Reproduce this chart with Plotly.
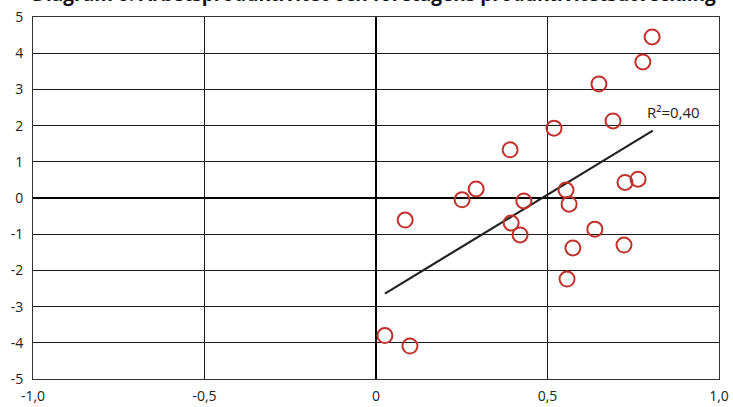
import plotly.graph_objects as go

# Productivity data: labour productivity (x) vs. firm productivity growth (y)
prod_x = [0.805, 0.778, 0.650, 0.691, 0.519, 0.391, 0.292, 0.251, 0.431, 0.554,
          0.726, 0.764, 0.563, 0.085, 0.394, 0.420, 0.638, 0.574, 0.723, 0.557,
          0.026, 0.099]
prod_y = [4.45, 3.76, 3.15, 2.13, 1.93, 1.33, 0.25, -0.05, -0.08, 0.22,
          0.43, 0.52, -0.17, -0.61, -0.69, -1.02, -0.86, -1.38, -1.30, -2.24,
          -3.80, -4.09]

# Linear trend endpoints
trend_x = [0.026, 0.807]
trend_y = [-2.64, 1.86]
r2_label = "R²=0,40"

x_ticks = [-1.0, -0.5, 0.0, 0.5, 1.0]
x_tick_text = ["-1,0", "-0,5", "0", "0,5", "1,0"]
y_ticks = [5, 4, 3, 2, 1, 0, -1, -2, -3, -4, -5]
y_tick_text = ["5", "4", "3", "2", "1", "0", "-1", "-2", "-3", "-4", "-5"]

title = "Diagram 6. Arbetsproduktivitet och företagens produktivitetsutveckling"

FONT = "Open Sans"
RED = "#C0312B"

fig = go.Figure()
fig.add_trace(go.Scatter(
    x=trend_x, y=trend_y, mode="lines",
    line=dict(color="#222222", width=2.2), hoverinfo="skip", showlegend=False,
))
fig.add_trace(go.Scatter(
    x=prod_x, y=prod_y, mode="markers",
    marker=dict(symbol="circle-open", size=15, color=RED, line=dict(width=2, color=RED)),
    showlegend=False,
))

fig.add_annotation(
    x=0.868, y=2.38, xref="x", yref="y", text=r2_label, showarrow=False,
    font=dict(family=FONT, size=15, color="#222222"),
)
fig.add_annotation(
    x=0, y=1.022, xref="paper", yref="paper", xanchor="left", yanchor="bottom",
    xshift=-3, text="<b>" + title + "</b>", showarrow=False,
    font=dict(family=FONT, size=19, color="#111111"),
)

fig.update_xaxes(
    range=[-1, 1], tickvals=x_ticks, ticktext=x_tick_text, automargin=False,
    showgrid=True, gridcolor="#1a1a1a", gridwidth=1,
    zeroline=True, zerolinecolor="#000000", zerolinewidth=2,
    showline=True, linecolor="#333333", linewidth=1, mirror=True,
    ticks="", ticklabelstandoff=4,
    tickfont=dict(family=FONT, size=14, color="#222222"),
)
fig.update_yaxes(
    range=[-5, 5], tickvals=y_ticks, ticktext=y_tick_text, automargin=False,
    showgrid=True, gridcolor="#1a1a1a", gridwidth=1,
    zeroline=True, zerolinecolor="#000000", zerolinewidth=1.5,
    showline=True, linecolor="#333333", linewidth=1, mirror=True,
    ticks="", ticklabelstandoff=6,
    tickfont=dict(family=FONT, size=14, color="#222222"),
)

fig.update_layout(
    width=733, height=407,
    margin=dict(l=33, r=14, t=17, b=28),
    plot_bgcolor="white", paper_bgcolor="white",
    font=dict(family=FONT),
)

fig.write_html("out.html")
